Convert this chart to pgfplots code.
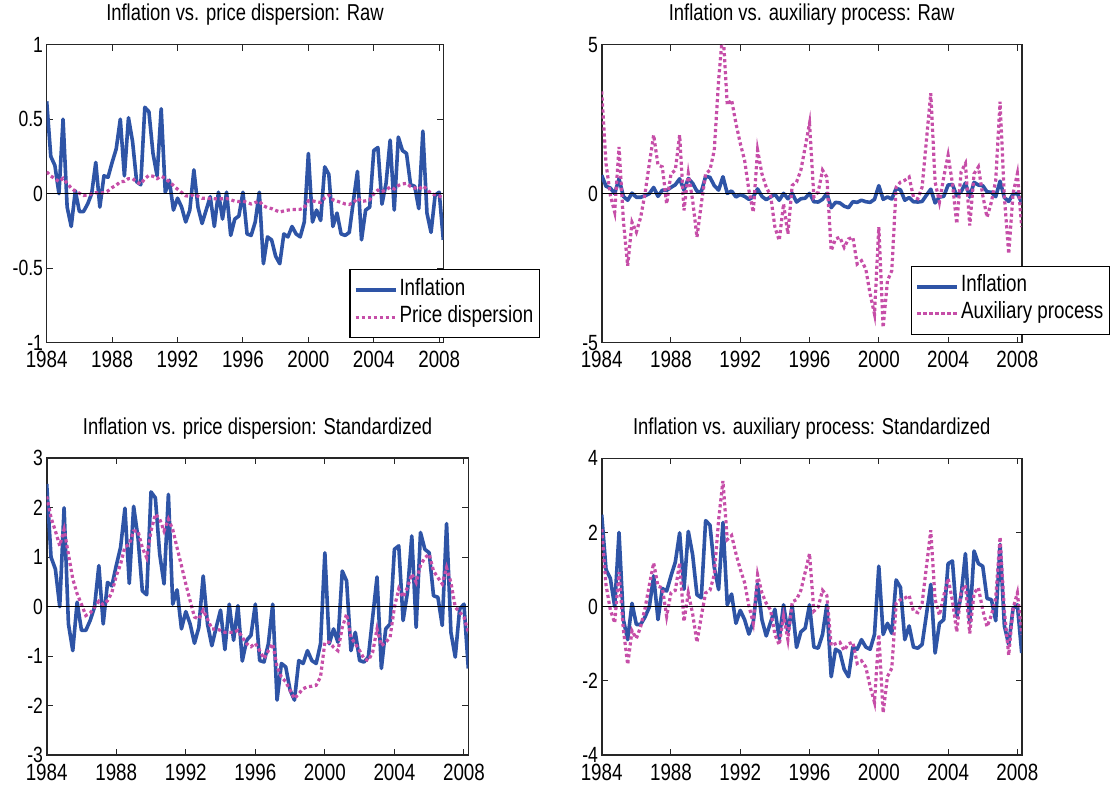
\documentclass[border=0pt]{standalone}
\usepackage{fontspec}
\setmainfont{Liberation Sans}[FakeStretch=0.8]
\usepackage{pgfplots}
\usepackage{pgfplotstable}
\pgfplotsset{compat=1.18}
\definecolor{infl}{RGB}{46,84,166}
\definecolor{pdc}{RGB}{198,78,168}

\pgfplotstableread{
t ir is pr ps ar as
1984.00 0.62 2.48 0.147 2.23 3.43 2.09
1984.25 0.25 1.00 0.119 1.80 1.01 0.58
1984.50 0.19 0.76 0.101 1.53 -0.06 -0.09
1984.75 0.00 0.00 0.081 1.23 -0.62 -0.44
1985.00 0.50 2.00 0.103 1.56 1.57 0.93
1985.25 -0.09 -0.35 0.070 1.06 -0.90 -0.61
1985.50 -0.22 -0.89 0.037 0.56 -2.42 -1.56
1985.75 0.02 0.09 0.017 0.26 -0.96 -0.65
1986.00 -0.12 -0.48 0.003 0.05 -1.29 -0.86
1986.25 -0.12 -0.48 -0.012 -0.18 -0.79 -0.54
1986.50 -0.07 -0.28 -0.009 -0.13 0.00 -0.05
1986.75 0.00 -0.01 -0.001 -0.01 1.01 0.58
1987.00 0.21 0.83 0.007 0.11 1.97 1.18
1987.25 -0.09 -0.35 0.003 0.04 0.96 0.55
1987.50 0.12 0.49 0.008 0.12 0.90 0.51
1987.75 0.11 0.42 0.019 0.29 -0.34 -0.26
1988.00 0.21 0.83 0.041 0.62 0.67 0.37
1988.25 0.30 1.20 0.057 0.86 0.79 0.44
1988.50 0.50 1.99 0.080 1.21 1.97 1.18
1988.75 0.12 0.47 0.083 1.26 -0.56 -0.40
1989.00 0.51 2.03 0.101 1.53 0.67 0.37
1989.25 0.35 1.40 0.101 1.53 -0.22 -0.19
1989.50 0.08 0.32 0.079 1.19 -1.46 -0.96
1989.75 0.06 0.24 0.065 0.99 -0.34 -0.26
1990.00 0.58 2.32 0.101 1.53 0.67 0.37
1990.25 0.55 2.20 0.123 1.87 0.79 0.44
1990.50 0.27 1.06 0.117 1.77 1.46 0.86
1990.75 0.12 0.46 0.101 1.53 3.82 2.34
1991.00 0.57 2.27 0.117 1.77 5.50 3.39
1991.25 0.01 0.05 0.103 1.56 2.98 1.81
1991.50 0.09 0.34 0.079 1.19 3.15 1.92
1991.75 -0.11 -0.45 0.055 0.83 2.36 1.43
1992.00 -0.03 -0.10 0.030 0.46 1.69 1.01
1992.25 -0.09 -0.35 0.008 0.12 1.12 0.65
1992.50 -0.19 -0.74 -0.014 -0.21 0.11 0.02
1992.75 -0.11 -0.42 -0.017 -0.25 -0.62 -0.44
1993.00 0.16 0.62 -0.005 -0.07 1.46 0.86
1993.25 -0.09 -0.35 -0.017 -0.25 0.67 0.37
1993.50 -0.20 -0.79 -0.030 -0.45 0.22 0.09
1993.75 -0.11 -0.42 -0.030 -0.45 -0.06 -0.09
1994.00 -0.02 -0.07 -0.032 -0.48 -1.12 -0.75
1994.25 -0.22 -0.87 -0.034 -0.52 -1.57 -1.03
1994.50 0.01 0.05 -0.034 -0.52 -0.34 -0.26
1994.75 -0.17 -0.68 -0.034 -0.52 -1.35 -0.89
1995.00 0.01 0.02 -0.032 -0.48 0.28 0.13
1995.25 -0.28 -1.10 -0.041 -0.62 0.39 0.19
1995.50 -0.17 -0.68 -0.050 -0.75 0.79 0.44
1995.75 -0.15 -0.58 -0.053 -0.81 1.57 0.93
1996.00 0.01 0.05 -0.049 -0.74 2.36 1.43
1996.25 -0.27 -1.09 -0.059 -0.89 -0.11 -0.12
1996.50 -0.28 -1.12 -0.069 -1.05 0.06 -0.01
1996.75 -0.19 -0.75 -0.059 -0.89 0.79 0.44
1997.00 0.01 0.05 -0.050 -0.75 0.56 0.30
1997.25 -0.47 -1.89 -0.081 -1.22 -1.91 -1.05
1997.50 -0.29 -1.15 -0.094 -1.42 -1.52 -1.00
1997.75 -0.31 -1.22 -0.100 -1.52 -1.46 -0.96
1998.00 -0.42 -1.69 -0.112 -1.69 -1.80 -1.18
1998.25 -0.47 -1.89 -0.123 -1.86 -1.52 -1.00
1998.50 -0.27 -1.09 -0.116 -1.76 -1.46 -0.96
1998.75 -0.29 -1.15 -0.110 -1.66 -2.36 -1.53
1999.00 -0.22 -0.89 -0.107 -1.62 -2.25 -1.46
1999.25 -0.27 -1.09 -0.106 -1.61 -2.53 -1.63
1999.50 -0.29 -1.15 -0.105 -1.59 -3.37 -2.16
1999.75 -0.19 -0.75 -0.094 -1.42 -4.04 -2.58
2000.00 0.27 1.09 -0.048 -0.72 -1.12 -0.75
2000.25 -0.19 -0.75 -0.048 -0.72 -4.49 -2.86
2000.50 -0.11 -0.45 -0.054 -0.82 -2.92 -1.88
2000.75 -0.18 -0.72 -0.059 -0.89 -2.58 -1.66
2001.00 0.18 0.72 -0.028 -0.42 0.22 0.09
2001.25 0.13 0.52 -0.010 -0.15 0.39 0.19
2001.50 -0.22 -0.89 -0.041 -0.62 0.45 0.23
2001.75 -0.13 -0.52 -0.050 -0.75 0.56 0.30
2002.00 -0.27 -1.09 -0.059 -0.89 -0.11 -0.12
2002.25 -0.28 -1.12 -0.069 -1.05 -0.17 -0.16
2002.50 -0.26 -1.02 -0.072 -1.09 0.22 0.09
2002.75 -0.05 -0.21 -0.061 -0.92 1.80 1.08
2003.00 0.15 0.60 -0.030 -0.45 3.37 2.06
2003.25 -0.31 -1.25 -0.052 -0.79 0.39 0.19
2003.50 -0.11 -0.45 -0.048 -0.72 -0.28 -0.23
2003.75 -0.09 -0.35 -0.041 -0.62 0.56 0.30
2004.00 0.29 1.16 -0.001 -0.01 1.29 0.76
2004.25 0.31 1.23 0.024 0.36 0.34 0.16
2004.50 -0.07 -0.28 0.013 0.19 -1.01 -0.68
2004.75 0.07 0.29 0.026 0.39 0.73 0.41
2005.00 0.36 1.43 0.044 0.66 1.01 0.58
2005.25 -0.11 -0.42 0.032 0.49 -1.07 -0.72
2005.50 0.38 1.50 0.055 0.83 0.67 0.37
2005.75 0.29 1.16 0.065 0.99 0.90 0.51
2006.00 0.27 1.09 0.070 1.06 -0.06 -0.09
2006.25 0.06 0.22 0.048 0.72 -0.79 -0.54
2006.50 0.05 0.19 0.039 0.59 -0.28 -0.23
2006.75 -0.10 -0.38 0.030 0.46 0.45 0.23
2007.00 0.42 1.68 0.052 0.79 3.09 1.88
2007.25 -0.13 -0.52 0.032 0.49 -0.11 -0.12
2007.50 -0.26 -1.02 -0.001 -0.01 -2.02 -1.31
2007.75 -0.01 -0.05 -0.007 -0.11 0.00 -0.05
2008.00 0.01 0.05 -0.014 -0.21 0.67 0.37
2008.25 -0.31 -1.25 -0.034 -0.52 -1.12 -0.75
}\data

\pgfplotsset{
  panel/.style={
    scale only axis,
    xmin=1984, xmax=2008.25,
    xtick={1984,1988,1992,1996,2000,2004,2008},
    xticklabels={1984,1988,1992,1996,2000,2004,2008},
    tick align=inside, xtick pos=both, ytick pos=both,
    xticklabel pos=lower, yticklabel pos=left,
    major tick length=6pt,
    every tick/.style={black!85, line width=1pt},
    axis line style={black!85, line width=1.6pt},
    xticklabel style={font=\fontsize{23.5}{26}\selectfont, inner sep=0pt, yshift=-8.5pt},
    yticklabel style={font=\fontsize{22}{24}\selectfont, inner sep=0pt, xshift=-3.5pt},
    title style={font=\fontsize{23}{26}\selectfont, anchor=base, at={(0.5,1)}, yshift=18pt},
    legend style={draw=black, line width=1.2pt, fill=white, anchor=south west,
      inner xsep=4pt, inner ysep=7pt, row sep=0pt,
      font=\fontsize{23.5}{26}\selectfont, cells={anchor=west},
      nodes={inner xsep=2pt, inner ysep=4.5pt, text height=14pt, text depth=4pt}},
    legend image code/.code={\draw[##1] (0pt,0pt) -- (40pt,0pt);},
  },
  blueline/.style={infl, line width=3.6pt, line join=round},
  pinkline/.style={pdc, line width=3.2pt, dash pattern=on 3.2pt off 2.8pt},
  zeroline/.style={forget plot, black, line width=1.3pt},
}

\begin{document}
\begin{tikzpicture}
\path[use as bounding box] (0pt,0pt) rectangle (1116pt,789pt);

% top-left
\begin{axis}[panel, at={(46.7pt,446.3pt)}, anchor=south west,
  width=396.6pt, height=298pt,
  ymin=-1, ymax=1, ytick={-1,-0.5,0,0.5,1}, yticklabels={-1,-0.5,0,0.5,1},
  title={Inflation vs. price dispersion: Raw},
  legend style={at={(0.763,0.0148)}}]
\addplot[blueline] table[x=t, y=ir] {\data};
\addplot[pinkline] table[x=t, y=pr] {\data};
\addplot[zeroline] coordinates {(1984,0) (2008.25,0)};
\legend{Inflation, Price dispersion}
\end{axis}

% top-right
\begin{axis}[panel, at={(601.7pt,446.3pt)}, anchor=south west,
  width=420pt, height=298pt,
  ymin=-5, ymax=5, ytick={-5,0,5}, yticklabels={-5,0,5},
  title={Inflation vs. auxiliary process: Raw},
  legend style={at={(0.7364,0.026)}}]
\addplot[blueline] table[x=t, y=ir] {\data};
\addplot[pinkline] table[x=t, y=ar] {\data};
\addplot[zeroline] coordinates {(1984,0) (2008.25,0)};
\legend{Inflation, Auxiliary process}
\end{axis}

% bottom-left
\begin{axis}[panel, at={(46.7pt,34pt)}, anchor=south west,
  width=421.6pt, height=296.7pt,
  ymin=-3, ymax=3, ytick={-3,-2,-1,0,1,2,3}, yticklabels={-3,-2,-1,0,1,2,3},
  title={Inflation vs. price dispersion: Standardized}]
\addplot[blueline] table[x=t, y=is] {\data};
\addplot[pinkline] table[x=t, y=ps] {\data};
\addplot[zeroline] coordinates {(1984,0) (2008.25,0)};
\end{axis}

% bottom-right
\begin{axis}[panel, at={(601.7pt,34pt)}, anchor=south west,
  width=420pt, height=296.7pt,
  ymin=-4, ymax=4, ytick={-4,-2,0,2,4}, yticklabels={-4,-2,0,2,4},
  title={Inflation vs. auxiliary process: Standardized}]
\addplot[blueline] table[x=t, y=is] {\data};
\addplot[pinkline] table[x=t, y=as] {\data};
\addplot[zeroline] coordinates {(1984,0) (2008.25,0)};
\end{axis}
\end{tikzpicture}
\end{document}
